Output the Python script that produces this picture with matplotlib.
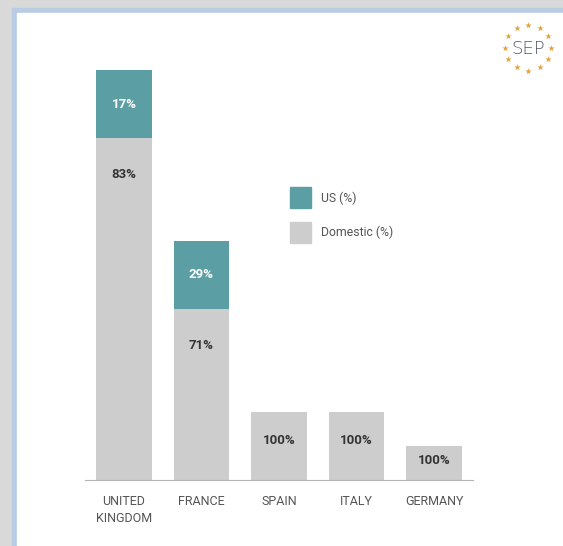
import numpy as np
import matplotlib
matplotlib.use("Agg")
import matplotlib.pyplot as plt
from matplotlib.patches import Rectangle

plt.rcParams['font.family'] = ['Roboto', 'DejaVu Sans']

# number of outlets, split into US-owned and domestic
countries = ["UNITED\nKINGDOM", "FRANCE", "SPAIN", "ITALY", "GERMANY"]
us_counts = [2, 2, 0, 0, 0]
domestic_counts = [10, 5, 2, 2, 1]

TEAL = "#5b9ea3"
GREY = "#cdcdcd"
TEXT = "#555555"

fig = plt.figure(figsize=(5.63, 5.46), dpi=100)

# page background: grey margin, blue frame, white panel (pixel coords)
bg = fig.add_axes([0, 0, 1, 1])
bg.set_xlim(0, 563)
bg.set_ylim(546, 0)
bg.axis("off")
bg.add_patch(Rectangle((0, 0), 563, 546, color="#d9d9d9"))
bg.add_patch(Rectangle((12, 8), 600, 600, color="#b8cce4"))
bg.add_patch(Rectangle((17, 13), 600, 600, color="white"))

# SEP logo: ring of 12 stars
cx, cy, r = 528, 47.5, 23
ang = np.deg2rad(np.arange(0, 360, 30))
bg.scatter(cx + r * np.cos(ang), cy + r * np.sin(ang), marker="*", s=24,
           color="#e0a444", linewidths=0)
bg.text(cx, cy + 1, "SEP", ha="center", va="center", fontsize=13,
        color="#4f5666", family=["DejaVu Sans"], fontweight="light")

# legend squares
bg.add_patch(Rectangle((290, 187), 21, 21, color=TEAL))
bg.add_patch(Rectangle((290, 222), 21, 21, color=GREY))
bg.text(321, 198, "US (%)", va="center", fontsize=8.8, color=TEXT)
bg.text(321, 232, "Domestic (%)", va="center", fontsize=8.8, color=TEXT)

# bar chart
ax = fig.add_axes([85 / 563, 66 / 546, 388 / 563, 410 / 546])
ax.patch.set_alpha(0)
x = np.arange(len(countries))
us = np.array(us_counts)
dom = np.array(domestic_counts)
total = us + dom

ax.bar(x, dom, width=0.72, color=GREY)
ax.bar(x, us, bottom=dom, width=0.72, color=TEAL)

for xi, d, u, t in zip(x, dom, us, total):
    if u > 0:
        ax.text(xi, d + u / 2, f"{round(100 * u / t)}%", ha="center",
                va="center", color="white", fontsize=9.5, fontweight="bold")
    ax.text(xi, d - min(1.05, d * 0.42), f"{round(100 * d / t)}%",
            ha="center", va="center", color="#333333", fontsize=9.5,
            fontweight="bold")

ax.set_xlim(-0.503, 4.503)
ax.set_ylim(0, 12)
for side in ["top", "left", "right"]:
    ax.spines[side].set_visible(False)
ax.spines["bottom"].set_color("#b5b5b5")
ax.set_yticks([])
ax.set_xticks(x)
ax.set_xticklabels(countries, fontsize=9, color=TEXT, linespacing=1.4)
ax.tick_params(axis="x", length=0, pad=11)

fig.savefig("out.png", dpi=100)
